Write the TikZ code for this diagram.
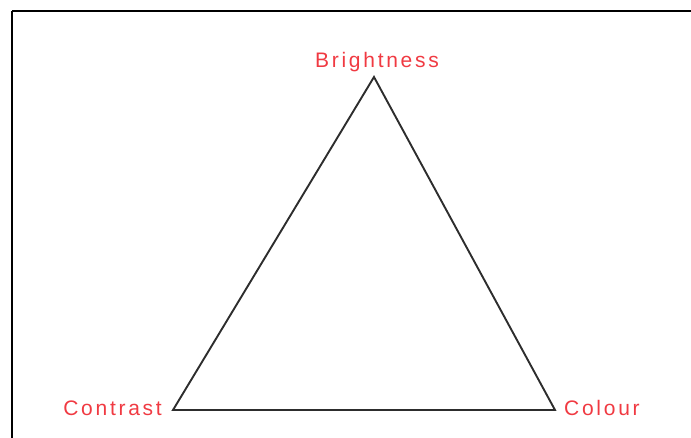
\documentclass[tikz,border=0pt]{standalone}
\usepackage{fontspec}
\setmainfont{Liberation Sans}[LetterSpace=13]
\usepackage{xcolor}
\definecolor{labelred}{RGB}{240,58,66}
\definecolor{edgegray}{RGB}{45,45,45}

\begin{document}
\begin{tikzpicture}[x=1pt,y=-1pt,
    corner/.style={font=\fontsize{21}{24}\selectfont,text=labelred,inner sep=0pt}]
    \useasboundingbox (0,0) rectangle (691,438);
    \draw[line width=1.8pt] (12,11) -- (12,460) (12,11) -- (720,11);
    \coordinate (bright) at (374,77);
    \coordinate (contr) at (173,410);
    \coordinate (col) at (555,410);
    \draw[edgegray,line width=1.9pt,line join=miter] (bright) -- (col) -- (contr) -- cycle;
    \node[corner,anchor=base] (lbright) at (377,68) {Brightness};
    \node[corner,anchor=base east] (lcontr) at (162,415) {Contrast};
    \node[corner,anchor=base west] (lcol) at (564,415) {Colour};
\end{tikzpicture}
\end{document}
